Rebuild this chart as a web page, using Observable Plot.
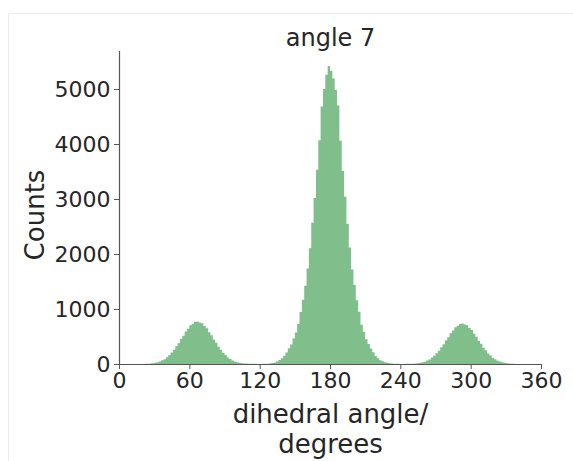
<!DOCTYPE html>
<html><head><meta charset="utf-8">
<script src="https://cdn.jsdelivr.net/npm/d3@7"></script>
<script src="https://cdn.jsdelivr.net/npm/@observablehq/plot@0.6"></script>
<style>
body{margin:0;background:#fff;}
#wrap{position:relative;width:573px;height:461px;overflow:hidden;background:#fff;}
#frame{position:absolute;left:8px;top:13px;width:600px;height:500px;border:1px solid #ececec;}
#wrap svg{position:absolute;left:0;top:0;}
</style></head><body><div id="wrap"><div id="frame"></div></div>
<script>
const title = "angle 7";
const xLabelLines = ["dihedral angle/", "degrees"];
const yLabel = "Counts";
const binWidth = 2;
const xTicks = [0, 60, 120, 180, 240, 300, 360];
const yTicks = [0, 1000, 2000, 3000, 4000, 5000];
// counts per 2-degree bin, bins [0,2), [2,4), ... [358,360)
const counts = [
  0, 0, 0, 0, 0, 0, 0, 0, 0, 1,
  2, 3, 5, 9, 15, 22, 33, 45, 66, 88,
  122, 157, 207, 253, 322, 378, 456, 512, 592, 641,
  705, 730, 768, 775, 755, 742, 690, 651, 578, 524,
  444, 386, 312, 261, 200, 162, 117, 92, 63, 47,
  31, 23, 14, 10, 7, 5, 4, 3, 3, 2,
  2, 3, 3, 6, 10, 17, 29, 47, 73, 104,
  151, 208, 286, 355, 462, 575, 728, 945, 1168, 1425,
  1738, 2105, 2570, 3020, 3530, 4070, 4680, 5000, 5260, 5420,
  5330, 5190, 4980, 4700, 4060, 3510, 3040, 2550, 2120, 1720,
  1435, 1160, 952, 715, 582, 448, 362, 280, 214, 146,
  106, 70, 50, 33, 22, 14, 9, 6, 4, 3,
  2, 2, 3, 3, 4, 5, 8, 14, 21, 32,
  43, 63, 84, 116, 148, 196, 241, 304, 358, 431,
  488, 560, 607, 668, 694, 726, 735, 716, 703, 655,
  618, 548, 497, 420, 366, 296, 248, 189, 153, 111,
  87, 60, 45, 30, 21, 13, 9, 5, 3, 2,
  1, 0, 0, 0, 0, 0, 0, 0, 0, 0
];

const rows = counts.map((c, i) => ({x: i * binWidth, y: c}));
rows.push({x: counts.length * binWidth, y: counts[counts.length - 1]});

const green = "#80be8c";
const ink = "#262626";
const chart = Plot.plot({
  width: 573,
  height: 461,
  marginLeft: 119,
  marginRight: 32,
  marginTop: 51,
  marginBottom: 97,
  style: {fontFamily: "DejaVu Sans", color: ink, background: "transparent"},
  x: {domain: [0, 360]},
  y: {domain: [0, 5691]},
  marks: [
    Plot.areaY(rows, {x: "x", y: "y", curve: "step-after", fill: green}),
    Plot.ruleX([0], {stroke: "#555", strokeWidth: 1.2}),
    Plot.ruleY([0], {stroke: "#555", strokeWidth: 1.2}),
    Plot.axisX({ticks: xTicks, tickSize: 5, tickPadding: 3, fontSize: 22, label: null, tickFormat: d3.format("d"), stroke: "#555"}),
    Plot.axisY({ticks: yTicks, tickSize: 5, tickPadding: 4, fontSize: 22, label: null, tickFormat: d3.format("d"), stroke: "#555"}),
    Plot.text([title], {frameAnchor: "top", dy: -13, fontSize: 24, textAnchor: "middle", lineAnchor: "middle", fill: ink}),
    Plot.text([yLabel], {frameAnchor: "left", dx: -84, dy: 7, rotate: -90, fontSize: 26, textAnchor: "middle", lineAnchor: "middle", fill: ink}),
    Plot.text([xLabelLines.join("\n")], {frameAnchor: "bottom", dy: 64, fontSize: 26, lineHeight: 1.17, textAnchor: "middle", lineAnchor: "middle", fill: ink})
  ]
});
document.getElementById("wrap").appendChild(chart);
</script>
</body></html>
